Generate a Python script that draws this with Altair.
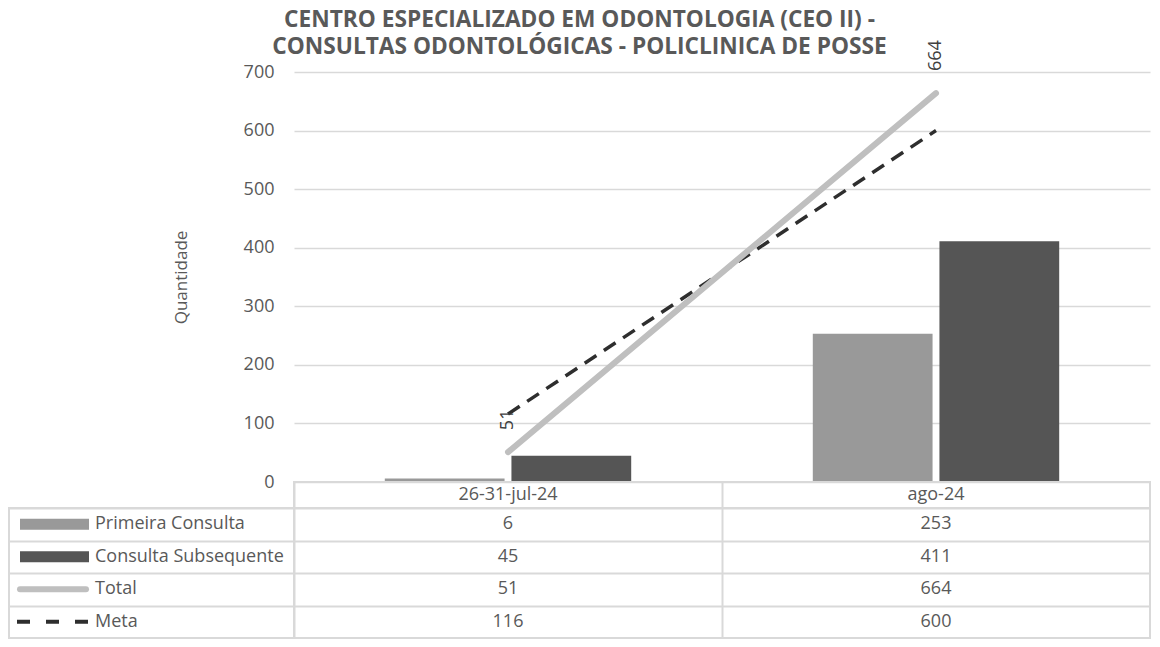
import altair as alt
import pandas as pd

# ---------------- data ----------------
categories = ["26-31-jul-24", "ago-24"]
series_names = ["Primeira Consulta", "Consulta Subsequente", "Total", "Meta"]
primeira = [6, 253]
subsequente = [45, 411]
total = [51, 664]
meta = [116, 600]
y_ticks = [0, 100, 200, 300, 400, 500, 600, 700]
title_lines = ["CENTRO ESPECIALIZADO EM ODONTOLOGIA (CEO II) -",
               "CONSULTAS ODONTOLÓGICAS - POLICLINICA DE POSSE"]

# ---------------- styles ----------------
FONT = "Open Sans"
TXT = "#595959"
GRID = "#D9D9D9"
C_PRIM = "#999999"
C_SUB = "#555555"
C_TOT = "#BFBFBF"
C_META = "#2E2E2E"

values_by_series = {
    "Primeira Consulta": primeira,
    "Consulta Subsequente": subsequente,
    "Total": total,
    "Meta": meta,
}
rows = []
for s in series_names:
    for c, v in zip(categories, values_by_series[s]):
        rows.append({"categoria": c, "serie": s, "valor": v})
df = pd.DataFrame(rows)
df_cat = pd.DataFrame({"categoria": categories})
df_ser = pd.DataFrame({"serie": series_names})

PLOT_W = 856
PLOT_H = 410
LEFT_W = 285
HEAD_H = 26
TABLE_H = 130

x_cat = alt.X("categoria:N", sort=categories,
              scale=alt.Scale(paddingInner=0, paddingOuter=0), axis=None)
y_val = alt.Y("valor:Q", scale=alt.Scale(domain=[0, 700]),
              axis=alt.Axis(values=y_ticks, grid=True, gridColor=GRID, gridWidth=1.5,
                            domain=False, ticks=False, labelFontSize=18,
                            labelColor=TXT, labelPadding=20,
                            title="Quantidade", titleFontSize=17,
                            titleFontWeight="normal", titleColor=TXT,
                            titleX=-113, titleY=PLOT_H / 2, titleAngle=-90,
                            titleAlign="center", titleBaseline="middle"))

bar_series = ["Primeira Consulta", "Consulta Subsequente"]
bars = alt.Chart(df).transform_filter(
    alt.FieldOneOfPredicate(field="serie", oneOf=bar_series)
).mark_bar().encode(
    x=x_cat,
    xOffset=alt.XOffset("serie:N", sort=bar_series,
                        scale=alt.Scale(paddingInner=0.0543, paddingOuter=0.717)),
    y=y_val,
    color=alt.Color("serie:N", scale=alt.Scale(domain=bar_series, range=[C_PRIM, C_SUB]),
                    legend=None),
)

line_total = alt.Chart(df).transform_filter(alt.datum.serie == "Total").mark_line(
    color=C_TOT, strokeWidth=6, strokeCap="round").encode(x=x_cat, y=y_val)
line_meta = alt.Chart(df).transform_filter(alt.datum.serie == "Meta").mark_line(
    color=C_META, strokeWidth=3.5, strokeDash=[14, 9]).encode(x=x_cat, y=y_val)
labels_total = alt.Chart(df).transform_filter(alt.datum.serie == "Total").mark_text(
    angle=270, align="left", baseline="middle", dx=22, fontSize=18, color="#404040"
).encode(x=x_cat, y=y_val, text="valor:Q")

main = alt.layer(bars, line_meta, line_total, labels_total).properties(
    width=PLOT_W, height=PLOT_H)


def spacer(w, h):
    return alt.Chart(df_cat).mark_point(opacity=0, size=0).encode(
        x=alt.value(0), y=alt.value(0)).properties(width=w, height=h)


box = alt.ViewBackground(stroke=GRID, strokeWidth=2)
grid_axis = alt.Axis(grid=True, tickBand="extent", labels=False, ticks=False,
                     domain=False, title=None, gridColor=GRID, gridWidth=2)

header = alt.Chart(df_cat).mark_text(fontSize=18, color=TXT).encode(
    x=alt.X("categoria:N", sort=categories,
            scale=alt.Scale(paddingInner=0, paddingOuter=0), axis=grid_axis),
    text="categoria:N",
).properties(width=PLOT_W, height=HEAD_H, view=box)

y_row = alt.Y("serie:N", sort=series_names,
              scale=alt.Scale(paddingInner=0, paddingOuter=0), axis=grid_axis)

sw_bars = alt.Chart(df_ser).transform_filter(
    alt.FieldOneOfPredicate(field="serie", oneOf=bar_series)
).mark_rule(strokeWidth=11, strokeCap="butt").encode(
    y=y_row, x=alt.value(11), x2=alt.value(80),
    color=alt.Color("serie:N", scale=alt.Scale(domain=bar_series, range=[C_PRIM, C_SUB]),
                    legend=None))
sw_total = alt.Chart(df_ser).transform_filter(alt.datum.serie == "Total").mark_rule(
    strokeWidth=6, strokeCap="round", color=C_TOT).encode(
    y=y_row, x=alt.value(11), x2=alt.value(77))
sw_meta = alt.Chart(df_ser).transform_filter(alt.datum.serie == "Meta").mark_rule(
    strokeWidth=4, strokeDash=[13, 16], color=C_META).encode(
    y=y_row, x=alt.value(8), x2=alt.value(80))
sw_text = alt.Chart(df_ser).mark_text(align="left", fontSize=18, color=TXT).encode(
    y=y_row, x=alt.value(86), text="serie:N")

label_col = alt.layer(sw_bars, sw_total, sw_meta, sw_text).properties(
    width=LEFT_W, height=TABLE_H, view=box)

values_tbl = alt.Chart(df).mark_text(fontSize=18, color=TXT).encode(
    x=alt.X("categoria:N", sort=categories,
            scale=alt.Scale(paddingInner=0, paddingOuter=0), axis=grid_axis),
    y=y_row,
    text="valor:Q",
).properties(width=PLOT_W, height=TABLE_H, view=box)

chart = alt.concat(
    spacer(LEFT_W, PLOT_H), main,
    spacer(LEFT_W, HEAD_H), header,
    label_col, values_tbl,
    columns=2, spacing=0, bounds="flush", align="each",
).resolve_scale(
    color="independent", x="independent", y="independent"
).properties(
    title=alt.TitleParams(text=title_lines, anchor="middle", frame="bounds",
                          fontSize=22.7, fontWeight="bold", color=TXT,
                          lineHeight=27, offset=-18),
    padding={"left": 0, "top": 0, "right": 0, "bottom": 0},
).configure(font=FONT).configure_view(stroke=None)

chart.save("out.html", embed_options={"renderer": "svg", "actions": False})
